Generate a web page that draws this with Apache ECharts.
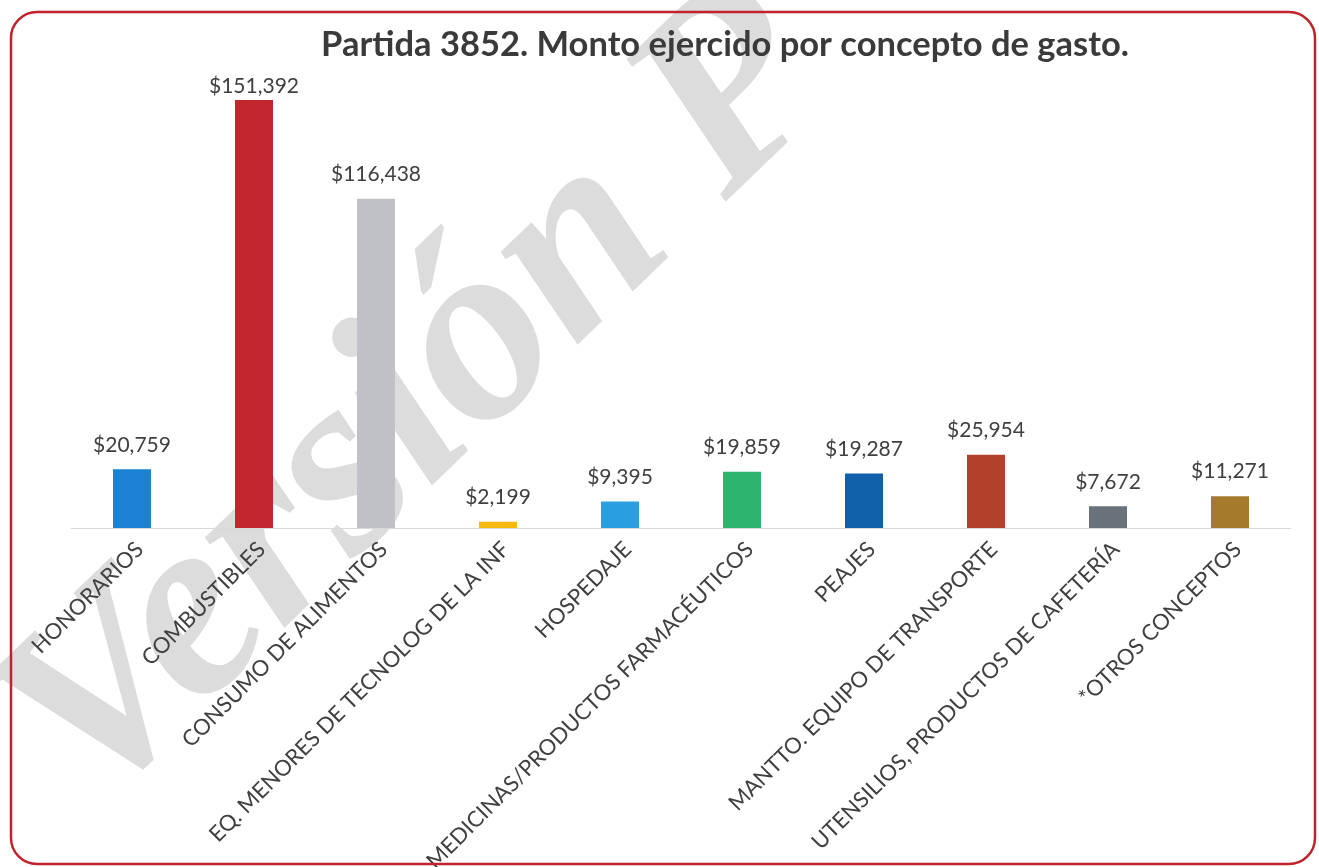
<!DOCTYPE html>
<html>
<head>
<meta charset="utf-8">
<script src="https://cdn.jsdelivr.net/npm/echarts@6/dist/echarts.min.js"></script>
<style>
  html, body { margin: 0; padding: 0; background: #fff; }
  #main { width: 1319px; height: 867px; }
</style>
</head>
<body>
<div id="main"></div>
<script>
// conceptos de gasto (eje x)
const categories = [
  'HONORARIOS',
  'COMBUSTIBLES',
  'CONSUMO DE ALIMENTOS',
  'EQ. MENORES DE TECNOLOG DE LA INF',
  'HOSPEDAJE',
  'MEDICINAS/PRODUCTOS FARMACÉUTICOS',
  'PEAJES',
  'MANTTO. EQUIPO DE TRANSPORTE',
  'UTENSILIOS, PRODUCTOS DE CAFETERÍA',
  '*OTROS CONCEPTOS'
];
// monto ejercido
const montos = [20759, 151392, 116438, 2199, 9395, 19859, 19287, 25954, 7672, 11271];
const colores = ['#1c82d2', '#c1272d', '#bfc1c6', '#f6b90c', '#2a9fe0', '#2db56e', '#0f5fa9', '#b2412c', '#69727a', '#a57a2c'];

const maxMonto = Math.max(...montos);

let myChart = echarts.init(document.getElementById('main'));
myChart.setOption({
  animation: false,
  title: {
    text: 'Partida 3852. Monto ejercido por concepto de gasto.',
    left: 720,
    textAlign: 'center',
    top: 22,
    textStyle: { fontSize: 34.5, fontWeight: 'bold', color: '#3a3a3a', fontFamily: 'Lato' }
  },
  graphic: [
    {
      // marca de agua
      type: 'text',
      z: -10,
      x: 45,
      y: 765,
      rotation: 44 * Math.PI / 180,
      style: {
        text: 'Versión P',
        fill: '#dcdcdc',
        fontFamily: 'Liberation Serif',
        fontStyle: 'italic',
        fontWeight: 'bold',
        fontSize: 262,
        textAlign: 'left',
        textVerticalAlign: 'middle'
      }
    },
    {
      type: 'rect',
      z: 100,
      shape: { x: 11, y: 12, width: 1304, height: 852, r: 26 },
      style: { fill: 'none', stroke: '#c0232c', lineWidth: 2.5 }
    }
  ],
  grid: {
    left: 71,
    right: 28,
    top: 100,
    bottom: 339,
    containLabel: false,
    outerBoundsMode: 'none'
  },
  xAxis: {
    type: 'category',
    data: categories,
    axisTick: { show: false },
    axisLine: { lineStyle: { color: '#d9d9d9', width: 1 } },
    axisLabel: {
      interval: 0,
      rotate: 45,
      margin: 10,
      verticalAlign: 'top',
      fontSize: 22,
      color: '#404040',
      fontFamily: 'Lato'
    }
  },
  yAxis: {
    type: 'value',
    min: 0,
    max: maxMonto,
    show: false,
    splitLine: { show: false }
  },
  series: [
    {
      type: 'bar',
      barWidth: 38,
      data: montos.map((v, i) => ({
        value: v,
        itemStyle: { color: colores[i] },
        label: v === maxMonto ? { distance: 3 } : undefined
      })),
      label: {
        show: true,
        position: 'top',
        distance: 14,
        fontSize: 21,
        color: '#404040',
        fontFamily: 'Lato',
        formatter: p => '$' + p.value.toLocaleString('en-US')
      }
    }
  ]
});
</script>
</body>
</html>
